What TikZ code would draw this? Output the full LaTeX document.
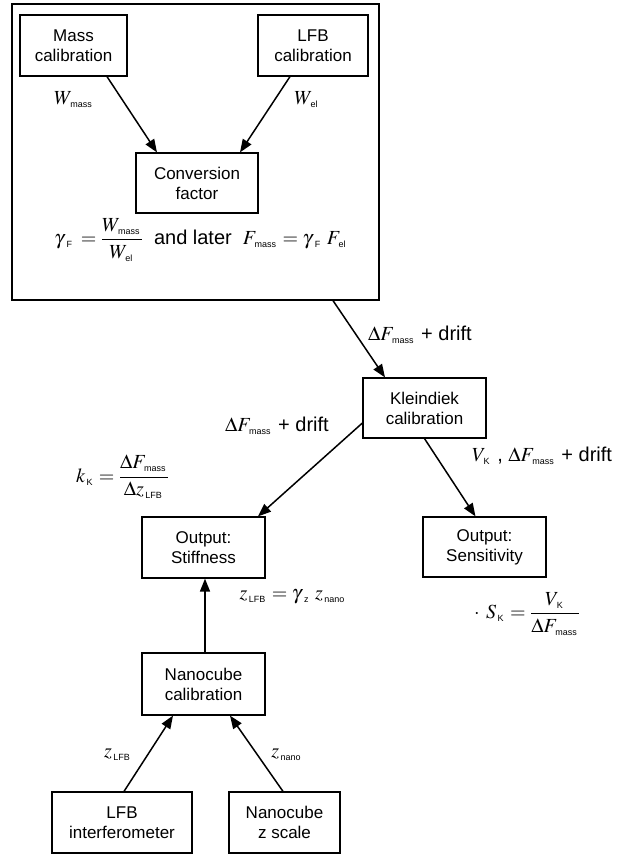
\documentclass[tikz,border=0pt]{standalone}
\usepackage{amsmath}
\usepackage{mathptmx}
\usepackage{fontspec}
\setmainfont{Liberation Sans}
\usetikzlibrary{arrows.meta}
\newcommand{\sbs}[1]{_{\kern1.5pt\text{\fontsize{9}{9}\selectfont #1}\kern1.5pt}}
\newcommand{\gsbs}[1]{_{\kern4pt\text{\fontsize{9}{9}\selectfont #1}\kern1.5pt}}
\begin{document}
\begin{tikzpicture}[x=1pt,y=-1pt,
 box/.style={draw,line width=1.2pt,align=center,inner sep=0pt,font=\fontsize{17}{20}\selectfont},
 lab/.style={inner sep=0pt,font=\fontsize{20}{24}\selectfont},
 arr/.style={line width=1.5pt,-{Triangle[length=13pt,width=10pt]}}]
\useasboundingbox (0,0) rectangle (620,855);
% boxes
\node[box,minimum width=367pt,minimum height=296pt] (frame) at (195.5,152) {};
\node[box,minimum width=107pt,minimum height=61pt] (mass) at (73.5,45.5) {Mass\\calibration};
\node[box,minimum width=110pt,minimum height=61pt] (lfbc) at (313,45.5) {LFB\\calibration};
\node[box,minimum width=122pt,minimum height=60pt] (conv) at (197,183) {Conversion\\factor};
\node[box,minimum width=123pt,minimum height=60pt] (klein) at (424.5,408) {Kleindiek\\calibration};
\node[box,minimum width=123pt,minimum height=61pt] (stiff) at (203.5,547.5) {Output:\\Stiffness};
\node[box,minimum width=123pt,minimum height=60pt] (sens) at (484.5,547) {Output:\\Sensitivity};
\node[box,minimum width=123pt,minimum height=62pt] (nano) at (203.5,684) {Nanocube\\calibration};
\node[box,minimum width=140pt,minimum height=61pt] (lfbi) at (122,822.5) {LFB\\interferometer};
\node[box,minimum width=111pt,minimum height=61pt] (nanoz) at (284.5,822.5) {Nanocube\\z scale};
% connectors
\draw[arr] ([xshift=33.5pt]mass.south) -- ([xshift=-40pt]conv.north);
\draw[arr] ([xshift=-23pt]lfbc.south) -- ([xshift=43pt]conv.north);
\draw[arr] ([xshift=137.5pt]frame.south) -- ([xshift=-39.5pt]klein.north);
\draw[arr] ([yshift=-15pt]klein.west) -- ([xshift=54.5pt]stiff.north);
\draw[arr] (klein.south) -- ([xshift=-9pt]sens.north);
\draw[arr] ([xshift=1.5pt]nano.north) -- ([xshift=1.5pt]stiff.south);
\draw[arr] ([xshift=2pt]lfbi.north) -- ([xshift=-30.5pt]nano.south);
\draw[arr] ([xshift=-1.5pt]nanoz.north) -- ([xshift=26.5pt]nano.south);
% labels
\node[lab] (wmass) at (74,100) {$W\sbs{mass}$};
\node[lab] (wel) at (307,100) {$W\sbs{el}$};
\node[lab] (eq) at (201,240) {$\gamma\gsbs{F}\,=\dfrac{W\sbs{mass}}{W\sbs{el}}$\ \ and later\ \ $F\sbs{mass}=\gamma\gsbs{F}\;F\sbs{el}$};
\node[lab] (df1) at (420,335) {$\Delta F\sbs{mass}$ + drift};
\node[lab] (df2) at (277,426) {$\Delta F\sbs{mass}$ + drift};
\node[lab] (kk) at (122.5,477) {$k\sbs{K}=\dfrac{\Delta F\sbs{mass}}{\Delta z\sbs{LFB}}$};
\node[lab] (vk) at (542,456) {$V\sbs{K}$ , $\Delta F\sbs{mass}$ + drift};
\node[lab] (zeq) at (293,597) {$z\sbs{LFB}=\gamma\gsbs{z}\;z\sbs{nano}$};
\node[lab] (sk) at (527,614) {$\cdot\;\, S\sbs{K}=\dfrac{V\sbs{K}}{\Delta F\sbs{mass}}$};
\node[lab] (zl) at (118,755) {$z\sbs{LFB}$};
\node[lab] (zn) at (287,755) {$z\sbs{nano}$};
\end{tikzpicture}
\end{document}
